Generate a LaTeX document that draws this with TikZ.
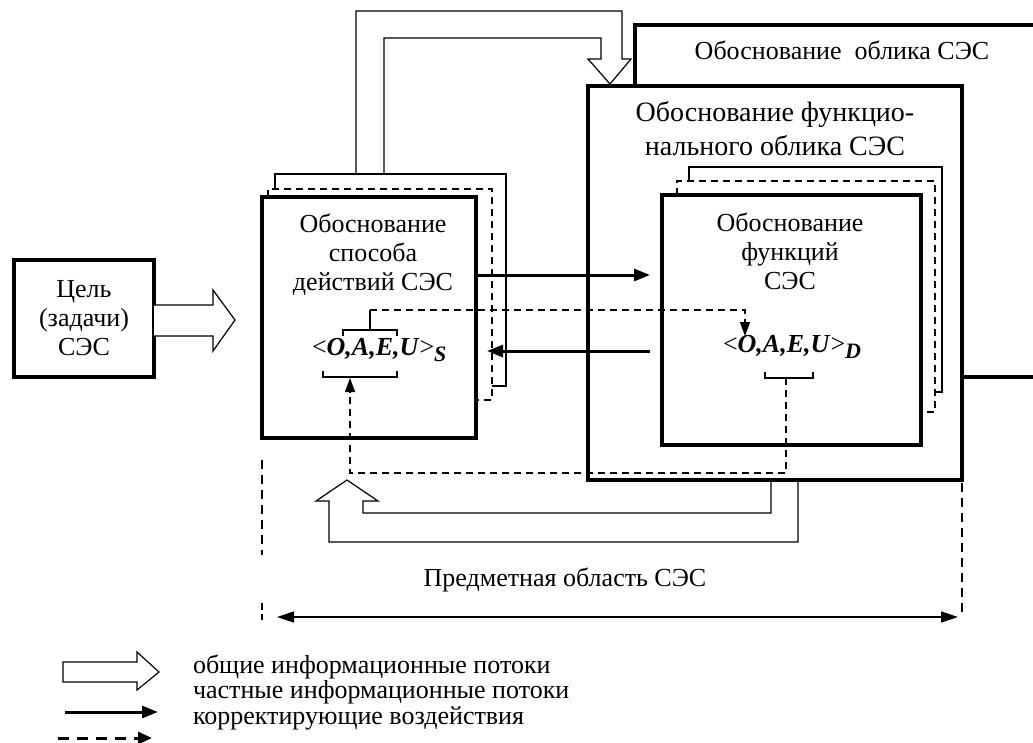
\documentclass[tikz,border=0pt]{standalone}
\usepackage{fontspec}
\setmainfont{Liberation Serif}
\usetikzlibrary{arrows.meta,calc}
\begin{document}
\begin{tikzpicture}[x=1pt,y=-1pt,
  every node/.style={font=\fontsize{26}{29}\selectfont, inner sep=0pt, outer sep=0pt},
  thickbox/.style={draw, line width=3.5pt, fill=white, line join=miter},
  thinln/.style={line width=1.3pt},
  dashln/.style={line width=1.3pt, dash pattern=on 7pt off 5pt},
  hollow/.style={draw, line width=1.2pt, line join=miter},
  flow/.style={line width=3pt, -{Triangle[length=16pt,width=12pt]}},
  corr/.style={dashln, -{Triangle[length=14pt,width=10pt]}},
  txt/.style={align=center},
  frm/.style={anchor=west},
]
\useasboundingbox (0,0) rectangle (1033,742);

% outer box (partly hidden)
\draw[line width=3.5pt, line join=miter] (1040,25) -- (635,25) -- (635,86);
\draw[line width=3.5pt] (962,377) -- (1040,377);
\node (outertxt) at (842,50) {Обоснование\ \ облика СЭС};

% functional box
\node[thickbox, minimum width=374pt, minimum height=394pt, anchor=north west] (func) at (588,86) {};
\node[txt, font=\fontsize{28}{34}\selectfont] (functxt) at (775,129) {Обоснование функцио-\\нального облика СЭС};

% copies behind D
\draw[thinln] (689,181) -- (689,167) -- (942,167) -- (942,392) -- (935,392);
\draw[dashln] (677,195) -- (677,181) -- (935,181) -- (935,412) -- (921,412);
\node[thickbox, minimum width=259pt, minimum height=250pt, anchor=north west] (D) at (662,195) {};
\node[txt] (Dtxt) at (790,251) {Обоснование\\функций\\СЭС};
\node[frm] (Dfrm) at (723,347) {<\textbf{\textit{O,A,E,U}}>\raisebox{-6pt}{\fontsize{22}{22}\selectfont\bfseries\itshape D}};

% copies behind S
\draw[thinln] (275,189) -- (275,174) -- (506,174) -- (506,386) -- (492,386);
\draw[dashln] (268,197) -- (268,189) -- (492,189) -- (492,400) -- (476,400);
\node[thickbox, minimum width=214pt, minimum height=241pt, anchor=north west] (S) at (262,197) {};
\node[txt] (Stxt) at (373,255) {Обоснование\\способа\\действий СЭС};
\node[frm] (Sfrm) at (312,350) {<\textbf{\textit{O,A,E,U}}>\raisebox{-6pt}{\fontsize{22}{22}\selectfont\bfseries\itshape S}};

% goal box
\node[thickbox, minimum width=140pt, minimum height=117pt, anchor=north west] (goal) at (14,260) {};
\node[txt] (goaltxt) at (goal.center) {Цель\\(задачи)\\СЭС};

% hollow arrows
\draw[hollow, fill=white] (154,305) -- (213,305) -- (213,290) -- (235,320) -- (213,351) -- (213,336) -- (154,336);
\draw[hollow] (356,174) -- (356,11) -- (622,11) -- (622,59) -- (631,59) -- (610,84) -- (588,59) -- (601,59) -- (601,38) -- (384,38) -- (384,174);
\draw[hollow] (798,480) -- (798,542) -- (329,542) -- (329,501) -- (316,501) -- (347,480) -- (378,501) -- (363,501) -- (363,513) -- (771,513) -- (771,480);

% brackets
\draw[thinln] (343,336) -- (343,330) -- (397,330) -- (397,336);
\draw[thinln] (370,330) -- (370,310);
\draw[thinln] (323,371) -- (323,377) -- (397,377) -- (397,371);
\draw[thinln] (765,372) -- (765,378) -- (813,378) -- (813,372);

% solid flows
\draw[flow] (S.east |- 0,275) -- (650,275);
\draw[flow] (650,351) -- (487,351);

% correction flows
\draw[corr] (370,310) -- (745,310) -- (745,336);
\draw[corr] (786,378) -- (786,473) -- (350,473) -- (350,378);

% subject domain
\draw[dashln, dash pattern=on 9pt off 6pt] (262,460) -- (262,555);
\draw[dashln, dash pattern=on 7pt off 4pt] (262,603) -- (262,620);
\draw[dashln, dash pattern=on 9pt off 6pt] (962,483) -- (962,617);
\draw[line width=1.5pt, {Triangle[length=17pt,width=11pt]}-{Triangle[length=17pt,width=11pt]}] (277,617) -- (958,617);
\node (domtxt) at (565,580) {Предметная область СЭС};

% legend
\draw[hollow, fill=white] (63,662) -- (137,662) -- (137,652) -- (159,672) -- (137,690) -- (137,682) -- (63,682) -- cycle;
\draw[flow] (65,712) -- (158,712);
\draw[line width=3pt, dash pattern=on 11pt off 8pt, -{Triangle[length=14pt,width=12pt]}] (58,738) -- (152,738);
\node[anchor=west] (leg1) at (193,667) {общие информационные потоки};
\node[anchor=west] (leg2) at (193,692) {частные информационные потоки};
\node[anchor=west] (leg3) at (193,718) {корректирующие воздействия};
\end{tikzpicture}
\end{document}
